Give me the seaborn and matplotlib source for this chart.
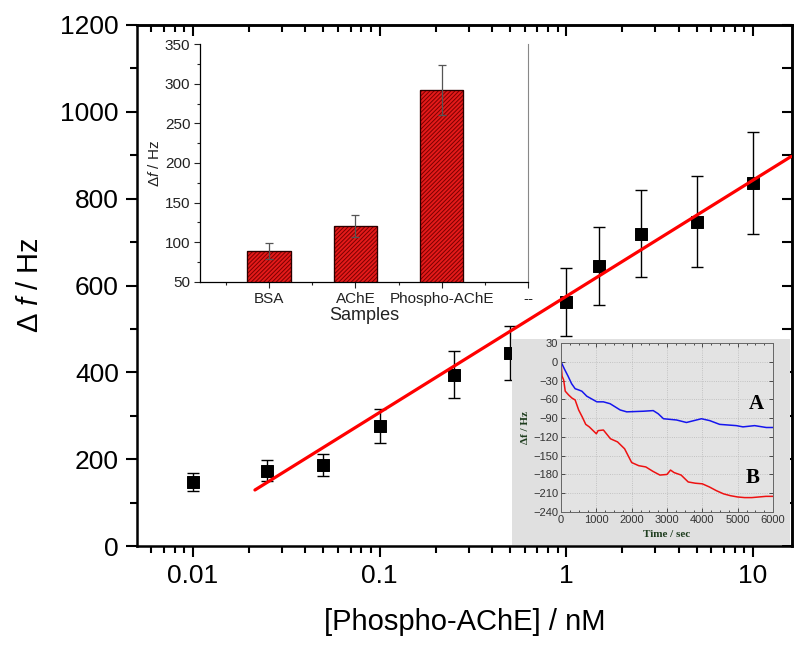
import numpy as np
import pandas as pd
import matplotlib
matplotlib.use("Agg")
import matplotlib.pyplot as plt
import seaborn as sns
from matplotlib.patches import Rectangle
from matplotlib.ticker import MultipleLocator, LogLocator, NullFormatter

# main plot data
conc = [0.01, 0.025, 0.05, 0.1, 0.25, 0.5, 1, 1.5, 2.5, 5, 10]
df_hz = [147, 173, 187, 276, 394, 445, 562, 645, 719, 747, 836]
df_err = [21, 24, 25, 39, 54, 62, 78, 90, 100, 105, 117]
fit_x = [0.0215, 16.0]
fit_y = [129, 897]

# inset bar data
samples = ["BSA", "AChE", "Phospho-AChE"]
bar_hz = [89, 121, 292]
bar_err = [10, 14, 32]
bar_ticklabels = ["BSA", "AChE", "Phospho-AChE", "--"]

# inset time traces
t_A = [0, 100, 200, 300, 400, 500, 590, 730, 1015, 1200, 1390, 1675, 1860, 2330,
       2610, 2750, 2900, 3270, 3550, 3975, 4210, 4490, 4960, 5150, 5480, 5810, 6000]
f_A = [0, -12, -23, -35, -43, -45, -47, -55, -64, -64, -67, -77, -80, -79,
       -78, -83, -91, -93, -97, -91, -94, -100, -102, -104, -102, -105, -105]
t_B = [0, 30, 75, 120, 215, 310, 400, 500, 600, 700, 800, 1000, 1050, 1200, 1400,
       1600, 1800, 2000, 2200, 2400, 2600, 2800, 3000, 3100, 3200, 3400, 3600,
       3800, 4000, 4200, 4400, 4600, 4800, 5000, 5200, 5400, 5600, 5800, 6000]
f_B = [0, -23, -29, -47, -53, -58, -61, -77, -88, -100, -104, -115, -110, -109, -123,
       -128, -139, -161, -166, -168, -175, -181, -180, -173, -177, -181, -192,
       -194, -195, -200, -206, -211, -214, -216, -217, -217, -216, -215, -215]

sns.set_style("ticks")
plt.rcParams["font.family"] = ["Liberation Sans", "DejaVu Sans"]
plt.rcParams["mathtext.fontset"] = "custom"
plt.rcParams["mathtext.rm"] = "Liberation Sans"
plt.rcParams["mathtext.it"] = "Liberation Sans:italic"
plt.rcParams["hatch.linewidth"] = 0.7
for k in ["text.color", "axes.labelcolor", "xtick.color", "ytick.color", "axes.edgecolor"]:
    plt.rcParams[k] = "black"

fig = plt.figure(figsize=(8, 6.5), dpi=100)
W, H = 800, 650

def box(l, t, r, b):
    return [l / W, 1 - b / H, (r - l) / W, (b - t) / H]

# ---- main axes ----
ax = fig.add_axes(box(137, 25, 792, 546))
ax.errorbar(conc, df_hz, yerr=df_err, fmt="none", ecolor="black", elinewidth=1,
            capsize=4, capthick=1, zorder=2)
sns.scatterplot(x=conc, y=df_hz, marker="s", s=75, color="black", edgecolor="black",
                ax=ax, zorder=3)
sns.lineplot(x=fit_x, y=fit_y, color="red", linewidth=2.3, ax=ax, zorder=4)
ax.set_xscale("log")
ax.set_xlim(0.00502, 16.2)
ax.set_ylim(0, 1200)
ax.yaxis.set_major_locator(MultipleLocator(200))
ax.yaxis.set_minor_locator(MultipleLocator(100))
ax.xaxis.set_minor_locator(LogLocator(base=10, subs=np.arange(2, 10), numticks=20))
ax.xaxis.set_minor_formatter(NullFormatter())
ax.set_xticks([0.01, 0.1, 1, 10], ["0.01", "0.1", "1", "10"])
ax.tick_params(which="both", direction="out", width=1.5, labelsize=19, pad=5)
ax.tick_params(which="major", length=8)
ax.tick_params(which="minor", length=5)
for s in ax.spines.values():
    s.set_linewidth(1.8)
ax.set_xlabel("[Phospho-AChE] / nM", fontsize=21, labelpad=14)
ax.set_ylabel(r"$\Delta\ \mathit{f}$ / Hz", fontsize=21, labelpad=12)

top = ax.secondary_xaxis("top")
top.xaxis.set_major_locator(LogLocator(base=10, numticks=10))
top.xaxis.set_minor_locator(LogLocator(base=10, subs=np.arange(2, 10), numticks=20))
top.tick_params(which="both", direction="in", width=1.5, labeltop=False)
top.tick_params(which="major", length=8)
top.tick_params(which="minor", length=5)
right = ax.secondary_yaxis("right")
right.yaxis.set_major_locator(MultipleLocator(100))
right.tick_params(direction="in", width=1.5, length=7, labelright=False)
top.spines["top"].set_linewidth(1.8)
right.spines["right"].set_linewidth(1.8)

# ---- inset bar chart ----
ax1 = fig.add_axes(box(200, 44, 528, 282))
ax1.set_zorder(3)
ax1.set_facecolor("white")
sns.barplot(x=samples, y=bar_hz, color="#e41a1a", width=0.5, saturation=1,
            edgecolor="#7a0000", linewidth=0.8, ax=ax1)
for p in ax1.patches:
    p.set_hatch("////////")
ax1.bar(range(len(samples)), bar_hz, width=0.5, fill=False, edgecolor="#2a0000",
        linewidth=0.9, zorder=3)
ax1.errorbar(range(len(samples)), bar_hz, yerr=bar_err, fmt="none", ecolor="#555555",
             elinewidth=0.9, capsize=3, capthick=0.9, zorder=4)
ax1.set_xlim(-0.8, 3)
ax1.set_ylim(50, 350)
ax1.set_xticks(range(len(bar_ticklabels)), bar_ticklabels)
ax1.xaxis.set_minor_locator(MultipleLocator(0.5))
ax1.yaxis.set_major_locator(MultipleLocator(50))
ax1.yaxis.set_minor_locator(MultipleLocator(25))
ax1.tick_params(which="both", direction="out", width=0.8, labelsize=11, pad=3,
                colors="#222222")
ax1.tick_params(which="major", length=4)
ax1.tick_params(which="minor", length=2.5)
ax1.spines["top"].set_visible(False)
ax1.spines["right"].set_color("#888888")
ax1.spines["right"].set_linewidth(0.8)
ax1.spines["left"].set_linewidth(0.9)
ax1.spines["bottom"].set_linewidth(0.9)
ax1.set_xlabel("Samples", fontsize=13, labelpad=1, color="#222222")
ax1.set_ylabel(r"$\mathit{\Delta f}$ / Hz", fontsize=11, labelpad=2, color="#222222")

# ---- inset time traces ----
fig.patches.append(Rectangle((512 / W, 1 - 545 / H), 278 / W, 206 / H,
                             transform=fig.transFigure, facecolor="#e0e0e0",
                             edgecolor="none", zorder=1))
ax2 = fig.add_axes(box(561, 343, 773, 512))
ax2.set_zorder(3)
ax2.set_facecolor("#e3e3e3")
sns.lineplot(x=t_A, y=f_A, color="#1515ee", linewidth=1.1, ax=ax2)
sns.lineplot(x=t_B, y=f_B, color="#ee1111", linewidth=1.1, ax=ax2)
ax2.set_xlim(0, 6000)
ax2.set_ylim(-240, 30)
ax2.xaxis.set_major_locator(MultipleLocator(1000))
ax2.xaxis.set_minor_locator(MultipleLocator(250))
ax2.yaxis.set_major_locator(MultipleLocator(30))
ax2.grid(True, ls=":", color="#b8b8b8", lw=0.6)
ax2.tick_params(which="both", direction="in", top=True, right=True, width=0.6,
                labelsize=8, pad=2, colors="#333333")
ax2.tick_params(which="major", length=3)
ax2.tick_params(which="minor", length=1.5)
for s in ax2.spines.values():
    s.set_color("#666666")
    s.set_linewidth(0.7)
ax2.set_xlabel("Time / sec", fontsize=8, family="Liberation Serif",
               fontweight="bold", color="#1e3d1e", labelpad=4)
ax2.set_ylabel("Δf / Hz", fontsize=8, family="Liberation Serif",
               fontweight="bold", color="#1e3d1e", labelpad=2)
ax2.text(5530, -67, "A", fontsize=15, family="Liberation Serif", fontweight="bold",
         ha="center", va="center")
ax2.text(5430, -185, "B", fontsize=15, family="Liberation Serif", fontweight="bold",
         ha="center", va="center")

fig.savefig("out.png", dpi=100)
